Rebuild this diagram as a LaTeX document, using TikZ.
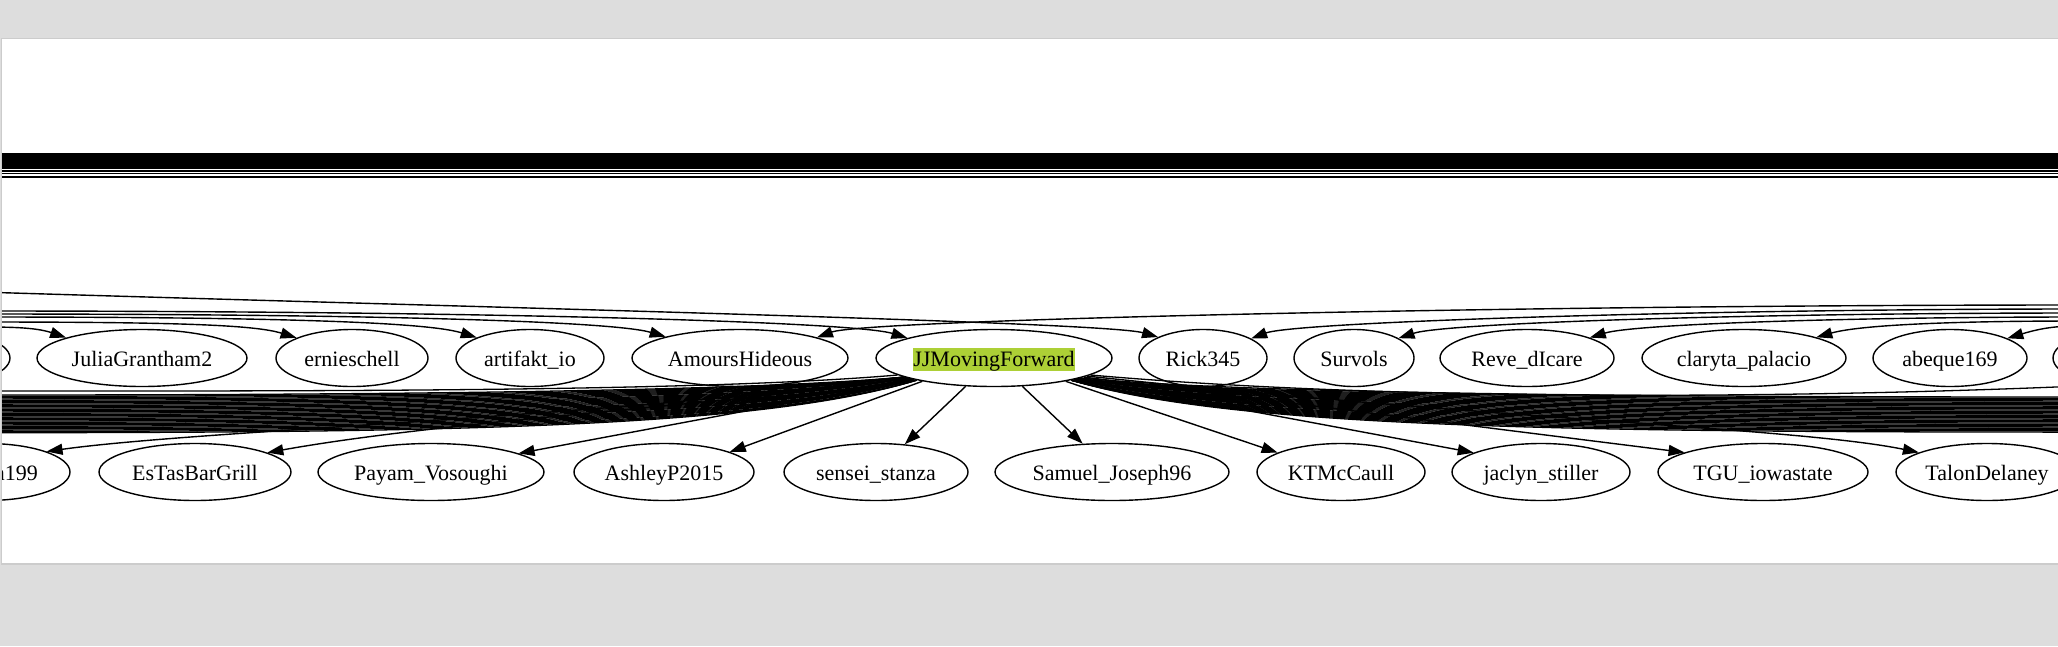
\documentclass[tikz,border=0pt]{standalone}
\usepackage{fontspec}
\setmainfont{Liberation Serif}
\usetikzlibrary{shapes.geometric,arrows.meta}

\definecolor{pagegray}{RGB}{221,221,221}
\definecolor{hlgreen}{RGB}{173,208,54}
\newcommand{\hilite}[1]{{\setlength{\fboxsep}{0pt}\colorbox{hlgreen}{\rule[-4pt]{0pt}{22pt}#1}}}

\begin{document}
\begin{tikzpicture}[x=1pt,y=-1pt,
  usernode/.style={ellipse, draw, line width=1.4pt, inner sep=0pt, minimum height=57pt,
    text height=20pt, text depth=4pt, font=\fontsize{22}{26}\selectfont},
  edge/.style={line width=1.4pt, -{Triangle[length=16pt,width=11pt]}},
  wire/.style={line width=1.3pt}]

\useasboundingbox (0,0) rectangle (2058,646);
\fill[pagegray] (0,0) rectangle (2058,646);
\fill[black!20] (1,37.5) rectangle (2058,564.5);
\fill[white] (2,39) rectangle (2058,563);

\begin{scope}
\clip (2,39) rectangle (2058,563);

% top row
\node[usernode, minimum width=160pt] (tl) at (-70,358) {};
\node[usernode, minimum width=210pt] (julia) at (142,358) {JuliaGrantham2};
\node[usernode, minimum width=152pt] (ernie) at (352,358) {ernieschell};
\node[usernode, minimum width=148pt] (artifakt) at (530,358) {artifakt\_io};
\node[usernode, minimum width=216pt] (amours) at (740,358) {AmoursHideous};
\node[usernode, minimum width=236pt] (jj) at (994,358) {\hilite{JJMovingForward}};
\node[usernode, minimum width=128pt] (rick) at (1203,358) {Rick345};
\node[usernode, minimum width=120pt] (survols) at (1354,358) {Survols};
\node[usernode, minimum width=174pt] (reve) at (1527,358) {Reve\_dIcare};
\node[usernode, minimum width=204pt] (claryta) at (1744,358) {claryta\_palacio};
\node[usernode, minimum width=154pt] (abeque) at (1950,358) {abeque169};
\node[usernode, minimum width=150pt] (tr) at (2128,358) {};

% bottom row
\node[usernode, minimum width=166pt] (n199) at (-13,472) {};
\node[font=\fontsize{22}{26}\selectfont, inner sep=0pt, text height=20pt, text depth=4pt,
  anchor=east] (n199txt) at (38,472) {n199};
\node[usernode, minimum width=192pt] (estas) at (195,472) {EsTasBarGrill};
\node[usernode, minimum width=226pt] (payam) at (431,472) {Payam\_Vosoughi};
\node[usernode, minimum width=180pt] (ashley) at (664,472) {AshleyP2015};
\node[usernode, minimum width=184pt] (sensei) at (876,472) {sensei\_stanza};
\node[usernode, minimum width=234pt] (samuel) at (1112,472) {Samuel\_Joseph96};
\node[usernode, minimum width=168pt] (kt) at (1341,472) {KTMcCaull};
\node[usernode, minimum width=178pt] (jaclyn) at (1541,472) {jaclyn\_stiller};
\node[usernode, minimum width=210pt] (tgu) at (1763,472) {TGU\_iowastate};
\node[usernode, minimum width=182pt] (talon) at (1987,472) {TalonDelaney};

% band of long edges at the top
\foreach \yy [count=\k] in {154,156,157,158,159,160,161,162,163,164,165,166,167,168.5,171,173.5,177} {
  \coordinate (tbl\k) at (-20,\yy);
  \coordinate (tbr\k) at (2080,\yy);
  \draw[wire] (tbl\k) -- (tbr\k);
}

% edges coming in from the left
\coordinate (inl1) at (-20,327);
\coordinate (inl2) at (-20,322);
\coordinate (inl3) at (-20,317);
\coordinate (inl4) at (-20,314);
\coordinate (inl5) at (-20,311);
\coordinate (inl6) at (-20,292);
\draw[edge] (inl1) .. controls (5,327) and (35,327) .. (julia.165);
\draw[edge] (inl2) .. controls (180,322) and (255,325) .. (ernie.160);
\draw[edge] (inl3) .. controls (300,317) and (430,323) .. (artifakt.159);
\draw[edge] (inl4) .. controls (400,314) and (615,322) .. (amours.164);
\draw[edge] (inl5) .. controls (500,311) and (855,322) .. (jj.167);
\draw[edge] (inl6) .. controls (500,308) and (1105,322) .. (rick.155);

% edges coming in from the right
\coordinate (inr1) at (2080,326);
\coordinate (inr2) at (2080,321);
\coordinate (inr3) at (2080,317);
\coordinate (inr4) at (2080,313);
\coordinate (inr5) at (2080,309);
\coordinate (inr6) at (2080,305);
\draw[edge] (inr1) .. controls (2060,326) and (2045,327) .. (abeque.19);
\draw[edge] (inr2) .. controls (1950,321) and (1860,325) .. (claryta.16);
\draw[edge] (inr3) .. controls (1850,317) and (1635,324) .. (reve.18);
\draw[edge] (inr4) .. controls (1750,313) and (1445,323) .. (survols.24);
\draw[edge] (inr5) .. controls (1700,309) and (1295,322) .. (rick.22);
\draw[edge] (inr6) .. controls (1500,305) and (865,320) .. (amours.15);

% bundles from JJMovingForward
\foreach \i in {0,...,29} {
  \pgfmathsetmacro\yy{395+1.3*\i}
  \pgfmathsetmacro\aa{192+0.15*\i}
  \coordinate (lb\i) at (-20,\yy);
  \draw[wire] (jj.\aa) .. controls (760,\yy-5) and (450,\yy) .. (lb\i);
}
\foreach \i in {0,...,27} {
  \pgfmathsetmacro\yy{397+1.3*\i}
  \pgfmathsetmacro\aa{347-0.1*\i}
  \coordinate (rb\i) at (2080,\yy);
  \draw[wire] (jj.\aa) .. controls (1230,\yy-5) and (1550,\yy) .. (rb\i);
}
\coordinate (lx1) at (-20,391);
\coordinate (rx1) at (2080,386);
\draw[wire] (jj.190) .. controls (700,392) and (300,391) .. (lx1);
\draw[wire] (jj.350) .. controls (1400,402) and (1800,398) .. (rx1);

% edges to the bottom row
\draw[edge] (jj.192) .. controls (600,418) and (200,430) .. (n199.19);
\draw[edge] (jj.193) .. controls (700,408) and (450,420) .. (estas.15);
\draw[edge] (jj.195) -- (payam.12);
\draw[edge] (jj.198) -- (ashley.17);
\draw[edge] (jj.225) -- (sensei.44);
\draw[edge] (jj.315) -- (samuel.136);
\draw[edge] (jj.342) -- (kt.163);
\draw[edge] (jj.346) -- (jaclyn.164);
\draw[edge] (jj.348) -- (tgu.166);
\draw[edge] (jj.349) .. controls (1500,420) and (1800,428) .. (talon.164);

\end{scope}
\end{tikzpicture}
\end{document}
